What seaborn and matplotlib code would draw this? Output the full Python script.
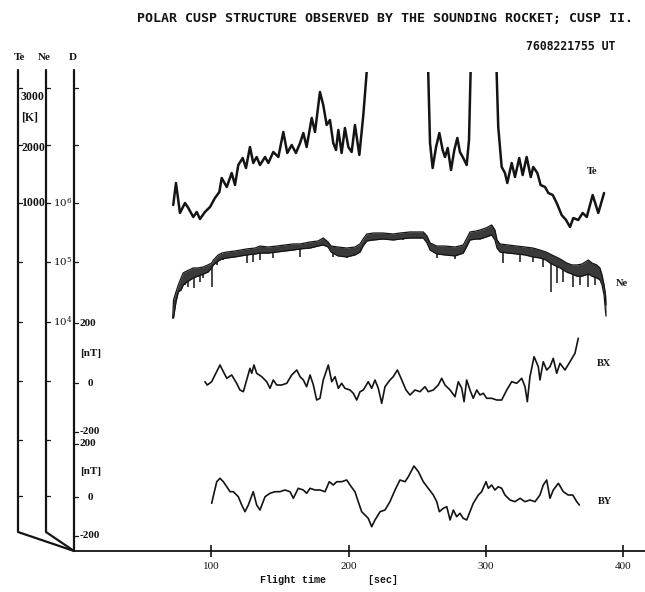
import numpy as np
import pandas as pd
import matplotlib
matplotlib.use("Agg")
import matplotlib.pyplot as plt
import seaborn as sns

# ---------------- electron temperature Te [K] ----------------
# three pieces; between them the probe runs off the top of the scale
te_seg1_time = [72.3, 74.3, 77.2, 80.9, 83.3, 86.9, 89.4, 91.8, 95.4, 99.1,
                102.7, 105.9, 107.6, 111.3, 114.9, 117.3, 119.7, 122.9, 125.3, 128.2,
                130.6, 133.1, 135.5, 139.2, 141.6, 145.2, 148.9, 152.5, 155.4, 158.6,
                161.7, 164.7, 167.1, 169.5, 173.2, 175.6, 179.2, 181.6, 184.1, 186.5,
                188.9, 190.9, 192.6, 195.0, 197.4, 199.9, 202.3, 204.7, 207.9, 210.8, 214.4]
te_seg1_k = [966, 1345, 828, 1000, 914, 759, 845, 724, 845, 931,
             1086, 1190, 1431, 1276, 1517, 1310, 1655, 1776, 1603, 1966,
             1690, 1793, 1655, 1793, 1690, 1879, 1793, 2224, 1862, 2000,
             1862, 2034, 2207, 1966, 2466, 2224, 2914, 2690, 2345, 2431,
             2034, 1914, 2259, 1862, 2293, 1966, 1879, 2345, 1828, 2517, 3600]

te_seg2_time = [257.7, 259.4, 261.3, 263.8, 266.2, 268.6, 270.3, 272.3, 274.7, 277.1,
                279.3, 281.2, 283.6, 286.1, 287.8, 289.3]
te_seg2_k = [3600, 2034, 1603, 1966, 2207, 1914, 1793, 1948, 1569, 1914,
             2121, 1879, 1776, 1655, 2086, 3600]

te_seg3_time = [307.5, 309.1, 311.6, 314.0, 315.7, 318.9, 321.3, 324.4, 326.9, 329.8,
                332.8, 334.6, 337.6, 340.0, 343.2, 345.6, 348.8, 351.7, 355.3, 358.5,
                361.4, 363.8, 367.4, 370.6, 373.6, 377.9, 382.0, 386.2]
te_seg3_k = [3600, 2310, 1621, 1517, 1345, 1690, 1448, 1776, 1483, 1793,
             1448, 1621, 1517, 1310, 1276, 1172, 1138, 1000, 793, 707,
             586, 741, 707, 828, 759, 1138, 828, 1172]

# ---------------- electron density Ne [cm^-3] ----------------
# the trace is a dense band: upper and lower envelope plus deep dropouts
ne_time = [71.9, 72.5, 74.3, 76.0, 78.0, 79.6, 82.3, 86.9, 90.3, 94.2,
           97.6, 100.3, 101.5, 105.1, 107.8, 111.3, 117.3, 125.8, 131.9, 135.5,
           141.3, 147.7, 153.7, 159.8, 164.7, 172.0, 177.8, 181.6, 185.1, 187.3,
           192.3, 198.7, 204.7, 208.4, 210.6, 213.3, 218.1, 225.1, 232.6, 237.5,
           244.8, 250.6, 254.5, 257.2, 259.4, 264.3, 270.3, 277.6, 283.6, 286.3,
           288.5, 292.9, 295.8, 300.2, 304.3, 306.7, 308.2, 310.4, 316.2, 322.6,
           328.6, 334.4, 339.5, 343.9, 346.8, 351.2, 354.1, 359.0, 362.8, 366.3,
           370.1, 374.7, 377.4, 380.8, 383.2, 384.7, 386.2, 387.3, 387.6]
ne_upper = [1.17e4, 2.34e4, 3.2e4, 4.2e4, 5.5e4, 6.7e4, 7.2e4, 8.1e4, 8.1e4, 8.4e4,
            9.1e4, 9.8e4, 1.10e5, 1.34e5, 1.44e5, 1.50e5, 1.56e5, 1.69e5, 1.75e5, 1.89e5,
            1.82e5, 1.89e5, 1.97e5, 2.05e5, 2.05e5, 2.21e5, 2.30e5, 2.58e5, 2.21e5, 1.89e5,
            1.82e5, 1.75e5, 1.82e5, 2.05e5, 2.48e5, 3.01e5, 3.13e5, 3.13e5, 3.01e5, 3.13e5,
            3.26e5, 3.26e5, 3.26e5, 2.79e5, 2.13e5, 1.89e5, 1.89e5, 1.82e5, 1.97e5, 2.58e5,
            3.26e5, 3.38e5, 3.52e5, 3.80e5, 4.27e5, 3.52e5, 2.39e5, 2.05e5, 1.97e5, 1.89e5,
            1.82e5, 1.75e5, 1.62e5, 1.50e5, 1.39e5, 1.24e5, 1.15e5, 9.8e4, 9.1e4, 9.1e4,
            9.4e4, 1.10e5, 9.8e4, 9.1e4, 8.1e4, 6.2e4, 4.2e4, 2.84e4, 1.93e4]
ne_lower = [1.17e4, 1.17e4, 2.17e4, 3.2e4, 3.45e4, 4.2e4, 4.7e4, 5.5e4, 5.9e4, 6.4e4,
            6.9e4, 8.1e4, 9.1e4, 1.06e5, 1.15e5, 1.19e5, 1.24e5, 1.34e5, 1.39e5, 1.44e5,
            1.44e5, 1.50e5, 1.56e5, 1.62e5, 1.69e5, 1.75e5, 1.89e5, 1.97e5, 1.82e5, 1.50e5,
            1.29e5, 1.24e5, 1.34e5, 1.50e5, 1.89e5, 2.30e5, 2.39e5, 2.48e5, 2.39e5, 2.48e5,
            2.58e5, 2.58e5, 2.58e5, 2.13e5, 1.62e5, 1.39e5, 1.34e5, 1.29e5, 1.44e5, 1.89e5,
            2.39e5, 2.48e5, 2.48e5, 2.68e5, 2.90e5, 2.39e5, 1.75e5, 1.50e5, 1.44e5, 1.39e5,
            1.34e5, 1.24e5, 1.19e5, 1.10e5, 9.8e4, 8.7e4, 8.1e4, 6.9e4, 6.4e4, 5.9e4,
            5.9e4, 6.4e4, 5.9e4, 5.5e4, 5.1e4, 4.2e4, 2.84e4, 1.47e4, 1.26e4]
ne_drop_time = [80.9, 83.3, 87.4, 91.8, 94.2, 100.3, 104.0, 108.8, 125.8, 130.6,
                135.5, 145.2, 164.7, 188.9, 198.7, 239.7, 264.3, 277.6, 312.8, 325.0,
                334.6, 341.9, 347.3, 351.7, 356.5, 363.8, 368.7, 374.7, 379.6]
ne_drop_min = [4.2e4, 3.9e4, 3.7e4, 4.7e4, 5.5e4, 3.9e4, 9.1e4, 1.10e5, 9.8e4, 1.02e5,
               1.10e5, 1.19e5, 1.24e5, 1.24e5, 1.19e5, 2.39e5, 1.19e5, 1.15e5, 9.8e4, 1.02e5,
               1.02e5, 8.4e4, 3.2e4, 4.5e4, 4.7e4, 3.9e4, 4.2e4, 3.9e4, 4.2e4]

# ---------------- magnetic field BX [nT] ----------------
bx_time = [95.4, 97.1, 100.3, 102.7, 106.4, 108.8, 111.3, 114.9, 118.5, 120.9,
           123.4, 125.8, 128.2, 129.5, 131.1, 133.1, 136.8, 140.4, 142.8, 145.2,
           147.7, 151.3, 155.0, 158.6, 162.3, 164.7, 167.1, 169.5, 172.0, 174.4,
           176.8, 179.2, 181.6, 185.3, 187.8, 190.2, 192.6, 195.0, 197.4, 201.1,
           203.5, 206.0, 208.4, 210.8, 214.4, 216.9, 219.3, 221.7, 224.2, 226.6,
           230.2, 232.6, 235.6, 238.8, 241.9, 244.8, 248.5, 252.1, 255.7, 258.1,
           261.8, 265.4, 267.9, 270.3, 274.0, 277.6, 280.0, 282.5, 284.2, 286.1,
           288.5, 290.9, 293.4, 295.8, 298.2, 300.7, 304.3, 308.0, 311.6, 315.3,
           318.9, 322.6, 326.2, 328.6, 330.3, 332.2, 335.2, 338.3, 339.5, 341.9,
           344.4, 346.8, 349.2, 351.7, 354.1, 357.7, 361.4, 365.0, 367.4]
bx_nt = [4.3, -6.7, 4.3, 26.7, 60.0, 37.7, 15.7, 26.7, -1.0, -23.3,
         -29.0, 10.0, 49.0, 32.3, 60.0, 32.3, 21.0, 4.3, -17.7, 10.0,
         -6.7, -6.7, -1.0, 26.7, 43.3, 21.0, 10.0, -12.3, 26.7, -6.7,
         -56.7, -51.0, 10.0, 60.0, 4.3, 21.0, -17.7, -1.0, -17.7, -23.3,
         -34.3, -56.7, -29.0, -23.3, 4.3, -17.7, 10.0, -17.7, -67.7, -12.3,
         10.0, 21.0, 43.3, 10.0, -23.3, -40.0, -23.3, -29.0, -12.3, -29.0,
         -23.3, -6.7, 15.7, -6.7, -23.3, -45.7, 4.3, -17.7, -62.3, 10.0,
         -23.3, -51.0, -23.3, -40.0, -34.3, -51.0, -51.0, -56.7, -56.7, -23.3,
         4.3, -1.0, 15.7, -12.3, -62.3, 21.0, 87.7, 54.3, 10.0, 71.0,
         43.3, 54.3, 82.3, 32.3, 65.7, 43.3, 71.0, 99.0, 149.0]

# ---------------- magnetic field BY [nT] ----------------
by_time = [100.3, 102.0, 104.0, 106.4, 108.8, 111.3, 113.7, 116.1, 119.7, 122.2,
           124.6, 127.0, 130.6, 133.1, 135.5, 139.2, 142.8, 146.4, 150.1, 153.7,
           157.4, 159.8, 163.4, 167.1, 169.5, 172.0, 175.6, 179.2, 182.9, 186.0,
           188.9, 191.4, 195.0, 198.7, 201.1, 204.7, 207.1, 209.6, 212.0, 214.4,
           216.9, 219.3, 223.0, 226.6, 230.2, 233.9, 237.5, 241.2, 243.6, 247.7,
           250.9, 254.5, 258.1, 261.8, 264.3, 266.2, 269.1, 271.6, 274.0, 276.4,
           278.8, 281.2, 283.6, 286.1, 288.5, 290.9, 294.6, 297.0, 300.2, 301.9,
           304.3, 306.7, 309.1, 311.6, 314.0, 317.7, 321.3, 325.0, 328.6, 332.2,
           335.9, 339.5, 341.9, 344.4, 346.8, 349.2, 352.9, 356.5, 360.1, 363.4,
           366.3, 368.2]
by_nt = [-23.8, 14.0, 57.7, 70.6, 57.7, 38.9, 20.0, 20.0, 1.1, -30.2,
         -55.5, -30.2, 20.0, -30.2, -49.1, 1.1, 14.0, 20.0, 20.0, 26.4,
         20.0, -4.9, 32.8, 26.4, 14.0, 32.8, 26.4, 26.4, 20.0, 57.7,
         45.3, 57.7, 57.7, 64.2, 45.3, 20.0, -17.7, -55.5, -67.9, -80.4,
         -112.1, -86.8, -55.5, -49.1, -17.7, 26.4, 64.2, 57.7, 76.6, 117.0,
         95.5, 57.7, 32.8, 7.5, -17.7, -55.5, -42.6, -36.6, -86.8, -49.1,
         -74.3, -61.5, -80.4, -86.8, -55.5, -23.8, 7.5, 20.0, 57.7, 32.8,
         45.3, 26.4, 38.9, 32.8, 7.5, -11.3, -17.7, -4.9, -17.7, -11.3,
         -17.7, 7.5, 45.3, 64.2, -4.9, 26.4, 51.7, 20.0, 7.5, 7.5,
         -17.7, -30.2]

# ---------------- axis annotations ----------------
time_ticks = [100, 200, 300, 400]
te_tick_labels = {"3000": 97, "[K]": 118, "2000": 148, "1000": 203}
ne_tick_labels = {r"$10^6$": 203, r"$10^5$": 262, r"$10^4$": 322}
b_tick_labels = [("200", 323), ("[nT]", 353), ("0", 383), ("-200", 431),
                 ("200", 444), ("[nT]", 472), ("0", 497), ("-200", 536)]
trace_names = [("Te", 587, 172), ("Ne", 616, 283), ("BX", 597, 364), ("BY", 598, 501)]
title = "POLAR CUSP STRUCTURE OBSERVED BY THE SOUNDING ROCKET; CUSP II."
subtitle = "7608221755 UT"

# ---------------- figure ----------------
sns.set_theme(style="white")
plt.rcParams["font.family"] = ["DejaVu Sans"]
plt.rcParams["mathtext.fontset"] = "dejavuserif"
ink = "#141414"
serif = ["Liberation Serif", "DejaVu Serif"]
mono = ["DejaVu Sans Mono"]

W, H = 645, 592
fig = plt.figure(figsize=(W / 100, H / 100), dpi=100)
fig.patch.set_facecolor("white")

# pixel-space layer for the hand-drawn style axes
deco = fig.add_axes([0, 0, 1, 1], zorder=0)
deco.set_xlim(0, W)
deco.set_ylim(H, 0)
deco.axis("off")

X_TE, X_NE, X_D = 18, 46, 74
Y_TOP, Y_BASE, Y_KNEE = 70, 551, 532
lw_axis = 1.6
deco.plot([X_TE, X_TE, X_D], [Y_TOP, Y_KNEE, Y_BASE], color=ink, lw=lw_axis, zorder=5)
deco.plot([X_NE, X_NE, X_D], [Y_TOP, Y_KNEE, Y_BASE], color=ink, lw=lw_axis, zorder=5)
deco.plot([X_D, X_D], [Y_TOP, Y_BASE], color=ink, lw=lw_axis, zorder=5)

for yy in [88, 145, 203, 262, 322, 381, 440, 496]:
    deco.plot([X_TE, X_TE + 4], [yy, yy], color=ink, lw=0.9)
    deco.plot([X_NE, X_NE + 4], [yy, yy], color=ink, lw=0.9)
for yy in [88, 145, 203, 262, 323, 383, 432, 444, 497, 536]:
    deco.plot([X_D, X_D + 4], [yy, yy], color=ink, lw=0.9)

for txt, xx in [("Te", 20), ("Ne", 44), ("D", 73)]:
    deco.text(xx, 58, txt, ha="center", va="center", family=serif,
              fontsize=8, fontweight="bold", color=ink)
for txt, yy in te_tick_labels.items():
    deco.text(21, yy, txt, ha="left", va="center", family=serif,
              fontsize=8.5, fontweight="bold", color=ink, zorder=1)
for txt, yy in ne_tick_labels.items():
    deco.text(53, yy, txt, ha="left", va="center", family=serif,
              fontsize=7.5, color=ink)
for txt, yy in b_tick_labels:
    xx = 90 if txt == "0" else 80
    deco.text(xx, yy, txt, ha="center" if txt == "0" else "left", va="center",
              family=serif, fontsize=8, fontweight="bold", color=ink)
for txt, xx, yy in trace_names:
    deco.text(xx, yy, txt, ha="left", va="center", family=serif,
              fontsize=7.5, fontweight="bold", color=ink)

deco.text(633, 18, title, ha="right", va="center", family=mono,
          fontsize=9.5, fontweight="bold", color=ink)
deco.text(615, 46, subtitle, ha="right", va="center", family=mono,
          fontsize=8.3, fontweight="bold", color=ink)
deco.text(260, 580, "Flight time       [sec]", ha="left", va="center",
          family=["Liberation Mono", "DejaVu Sans Mono"], fontsize=7.2,
          fontweight="bold", color=ink)

# ---------------- data panels on a common time axis ----------------
PX_PER_S = 1.3725
X1, Y0, Y1 = 645, 72, 551
rect = [X_D / W, 1 - Y1 / H, (X1 - X_D) / W, (Y1 - Y0) / H]
t_max = (X1 - X_D) / PX_PER_S


def limits(v0, p0, v1, p1, log=False):
    f = np.log10 if log else (lambda v: v)
    a0, a1 = f(v0), f(v1)
    slope = (a1 - a0) / (p1 - p0)
    bot = a0 + (Y1 - p0) * slope
    top = a0 + (Y0 - p0) * slope
    return (10 ** bot, 10 ** top) if log else (bot, top)


def panel(label):
    ax = fig.add_axes(rect, label=label, zorder=2)
    ax.patch.set_alpha(0)
    for s in ax.spines.values():
        s.set_visible(False)
    ax.set_xlim(0, t_max)
    ax.set_xticks([])
    ax.set_yticks([])
    return ax


# Te
ax_te = panel("te")
te_df = pd.concat([
    pd.DataFrame({"t": te_seg1_time, "Te": te_seg1_k, "seg": 1}),
    pd.DataFrame({"t": te_seg2_time, "Te": te_seg2_k, "seg": 2}),
    pd.DataFrame({"t": te_seg3_time, "Te": te_seg3_k, "seg": 3}),
])
sns.lineplot(data=te_df, x="t", y="Te", units="seg", estimator=None, sort=False,
             color=ink, lw=1.8, ax=ax_te)
ax_te.set_ylim(*limits(1000, 203, 2000, 145))

# Ne
ax_ne = panel("ne")
ax_ne.set_yscale("log")
ax_ne.fill_between(ne_time, ne_lower, ne_upper, color="#3a3a3a", lw=0)
ne_df = pd.DataFrame({"t": ne_time, "upper": ne_upper, "lower": ne_lower})
sns.lineplot(data=ne_df, x="t", y="upper", color=ink, lw=0.9, ax=ax_ne)
sns.lineplot(data=ne_df, x="t", y="lower", color=ink, lw=0.9, ax=ax_ne)
drop_top = np.interp(ne_drop_time, ne_time, ne_lower)
ax_ne.vlines(ne_drop_time, ne_drop_min, drop_top, color=ink, lw=1.1)
ax_ne.set_ylim(*limits(1e6, 203, 1e4, 322, log=True))
ax_ne.set_xticks([])
ax_ne.set_yticks([])
ax_ne.minorticks_off()

# BX
ax_bx = panel("bx")
sns.lineplot(x=bx_time, y=bx_nt, color=ink, lw=1.2, ax=ax_bx)
ax_bx.set_ylim(*limits(0, 383, 200, 323))

# BY, carrying the time axis
ax_by = panel("by")
sns.lineplot(x=by_time, y=by_nt, color=ink, lw=1.2, ax=ax_by)
ax_by.set_ylim(*limits(0, 497, 200, 444))
ax_by.spines["bottom"].set_visible(True)
ax_by.spines["bottom"].set_color(ink)
ax_by.spines["bottom"].set_linewidth(1.3)
ax_by.set_xticks(time_ticks)
ax_by.tick_params(axis="x", direction="inout", length=8, width=1.2, colors=ink,
                  pad=4, labelsize=8, bottom=True)
for lab in ax_by.get_xticklabels():
    lab.set_family(serif)

for ax in (ax_te, ax_ne, ax_bx, ax_by):
    ax.set_xlabel("")
    ax.set_ylabel("")
    ax.set_xlim(0, t_max)

fig.savefig("out.png", dpi=100, facecolor="white")
